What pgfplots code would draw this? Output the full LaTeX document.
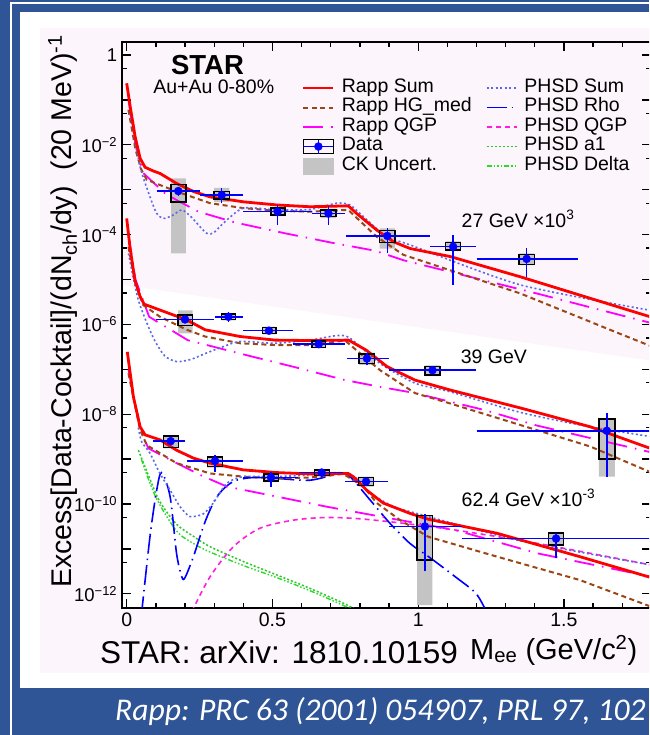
\documentclass[border=0pt]{standalone}
\usepackage{fontspec}
\setmainfont{Liberation Sans}
\newfontfamily\capfont{Carlito}
\usepackage{pgfplots}
\pgfplotsset{compat=1.18}
\definecolor{slideblue}{RGB}{47,85,151}
\definecolor{canvaspink}{RGB}{252,246,252}
\definecolor{rappred}{RGB}{255,0,0}
\definecolor{rappbrown}{RGB}{155,70,20}
\definecolor{rappmag}{RGB}{255,0,255}
\definecolor{phsdsum}{RGB}{90,105,230}
\definecolor{phsdrho}{RGB}{0,0,255}
\definecolor{phsdqgp}{RGB}{255,30,220}
\definecolor{phsdaone}{RGB}{40,200,40}
\definecolor{phsddelta}{RGB}{40,220,40}
\definecolor{datablue}{RGB}{0,0,255}
\definecolor{ckgray}{RGB}{196,196,196}
\tikzset{
 rsum/.style={rappred, line width=2.8pt},
 rhg/.style={rappbrown, line width=2pt, dash pattern=on 5pt off 3.5pt},
 rqgp/.style={rappmag, line width=1.8pt, dash pattern=on 20pt off 8pt on 1.5pt off 8pt},
 psum/.style={phsdsum, line width=1.6pt, dash pattern=on 2pt off 2.5pt},
 prho/.style={phsdrho, line width=1.6pt, dash pattern=on 20pt off 5pt on 1.5pt off 5pt},
 pqgp/.style={phsdqgp, line width=1.6pt, dash pattern=on 5pt off 4pt},
 paone/.style={phsdaone, line width=1.5pt, dash pattern=on 2pt off 2pt},
 pdelta/.style={phsddelta, line width=1.4pt, dash pattern=on 5pt off 2pt on 1.5pt off 2pt on 1.5pt off 2pt on 1.5pt off 2pt},
 sysbox/.style={draw=black, line width=1.4pt, line cap=rect},
 ckband/.style={fill=ckgray, draw=none},
 errbar/.style={datablue, line width=1.5pt},
 datapt/.style={only marks, mark=*, mark size=4pt, datablue, mark options={fill=datablue, draw=datablue}},
}
\begin{document}
\begin{tikzpicture}
\useasboundingbox (0pt,0pt) rectangle (649pt,-735pt);
\clip (0pt,0pt) rectangle (649pt,-735pt);
\begin{scope}[x=1pt,y=-1pt]
 \fill[slideblue] (0,0) rectangle (649,735);
 \draw[white, line width=1.2pt] (11,740) -- (11,3) -- (660,3);
 \fill[white] (20,12) rectangle (660,688);
 \fill[canvaspink] (40,28) rectangle (660,673);
 \fill[white] (121.7,285) -- (660,362) -- (660,607.7) -- (121.7,607.7) -- cycle;
 % texts
 \node[rotate=90, anchor=base, inner sep=0pt, font=\fontsize{28.5}{30}\selectfont] at (71,311.5)
   {Excess[Data-Cocktail]/(dN\textsubscript{ch}/dy)\ \ (20 MeV)\textsuperscript{-1}};
 \node[anchor=base west, inner sep=0pt, font=\fontsize{31.5}{33}\selectfont] at (100,663) {STAR: arXiv: 1810.10159};
 \node[anchor=base west, inner sep=0pt, font=\fontsize{29}{31}\selectfont] at (470,659) {M\textsubscript{ee} (GeV/c\textsuperscript{2})};
 \node[anchor=base west, inner sep=0pt, text=white, font=\capfont\itshape\fontsize{31.6}{33}\selectfont] at (115,720) {Rapp: PRC 63 (2001) 054907, PRL 97, 102};
 \node[anchor=base, inner sep=0pt, font=\bfseries\fontsize{27.5}{29}\selectfont] at (207.5,74.3) {STAR};
 \node[anchor=base, inner sep=0pt, font=\fontsize{19.5}{21}\selectfont] at (213.7,93.3) {Au+Au 0-80\%};
 \node[anchor=base west, inner sep=0pt, font=\fontsize{19.5}{21}\selectfont] at (461.5,227) {27 GeV ×10\textsuperscript{3}};
 \node[anchor=base west, inner sep=0pt, font=\fontsize{19.5}{21}\selectfont] at (460.6,363) {39 GeV};
 \node[anchor=base west, inner sep=0pt, font=\fontsize{19.5}{21}\selectfont] at (461.5,506) {62.4 GeV ×10\textsuperscript{-3}};
\end{scope}
\begin{axis}[
 at={(121.7pt,-607.7pt)}, anchor=south west,
 scale only axis, width=529.7pt, height=566pt,
 xmin=-0.01715, xmax=1.8,
 ymode=log, ymin=4.9e-13, ymax=1.977,
 axis line style={line width=2.2pt},
 every tick/.style={black, line width=1.3pt},
 major tick length=9pt, minor tick length=5pt,
 tick align=inside,
 xtick={0,0.5,1,1.5},
 minor xtick={0.1,0.2,0.3,0.4,0.6,0.7,0.8,0.9,1.1,1.2,1.3,1.4,1.6,1.7},
 ytick={1e-12,1e-11,1e-10,1e-9,1e-8,1e-7,1e-6,1e-5,1e-4,1e-3,1e-2,1e-1,1},
 yticklabels={\mbox{10\textsuperscript{−12}},,\mbox{10\textsuperscript{−10}},,\mbox{10\textsuperscript{−8}},,\mbox{10\textsuperscript{−6}},,\mbox{10\textsuperscript{−4}},,\mbox{10\textsuperscript{−2}},,1},
 minor ytick={5e-13,5e-12,5e-11,5e-10,5e-9,5e-8,5e-7,5e-6,5e-5,5e-4,5e-3,5e-2,5e-1},
 /pgf/number format/assume math mode=true,
 xticklabel style={font=\fontsize{19.5}{21}\selectfont, yshift=-2pt},
 yticklabel style={font=\fontsize{18.5}{20}\selectfont, xshift=-1pt},
 legend columns=2,
 legend cell align=left,
 legend image code/.code={\draw[#1] (0pt,0pt) -- (30pt,0pt);},
 legend style={at={(0.3404,0.9354)}, anchor=north west, draw=none, fill=none,
   inner sep=0pt, outer sep=0pt, row sep=0pt,
   font=\fontsize{19.5}{19.5}\selectfont,
   nodes={inner sep=0pt, text height=13.9pt, text depth=5.6pt},
   /tikz/every odd column/.append style={column sep=7pt},
   /tikz/every even column/.append style={column sep=14pt}},
]
% ---- legend ----
\addlegendimage{rsum}\addlegendentry{Rapp Sum}
\addlegendimage{psum}\addlegendentry{PHSD Sum}
\addlegendimage{rhg}\addlegendentry{Rapp HG\_med}
\addlegendimage{prho}\addlegendentry{PHSD Rho}
\addlegendimage{rqgp}\addlegendentry{Rapp QGP}
\addlegendimage{pqgp}\addlegendentry{PHSD QGP}
\addlegendimage{legend image code/.code={
  \draw[black, line width=1.4pt] (0pt,-7pt) rectangle (30pt,7pt);
  \draw[datablue, line width=1.5pt] (0pt,0pt) -- (30pt,0pt);
  \draw[datablue, line width=1.5pt] (15pt,-7pt) -- (15pt,7pt);
  \fill[datablue] (15pt,0pt) circle (4pt);}}\addlegendentry{Data}
\addlegendimage{paone}\addlegendentry{PHSD a1}
\addlegendimage{legend image code/.code={\fill[ckgray] (0pt,-8pt) rectangle (30pt,8pt);}}\addlegendentry{CK Uncert.}
\addlegendimage{pdelta}\addlegendentry{PHSD Delta}
% ---- CK uncertainty bands ----
\addplot[ckband, unbounded coords=jump, forget plot] coordinates {
(0.152,3.80e-5)(0.203,3.80e-5)(0.203,1.78e-3)(0.152,1.78e-3)(nan,nan)
(0.300,5.37e-4)(0.352,5.37e-4)(0.352,1.10e-3)(0.300,1.10e-3)(nan,nan)
(0.495,2.57e-4)(0.543,2.57e-4)(0.543,4.17e-4)(0.495,4.17e-4)(nan,nan)
(0.665,2.34e-4)(0.718,2.34e-4)(0.718,3.80e-4)(0.665,3.80e-4)(nan,nan)
(0.868,4.90e-5)(0.920,4.90e-5)(0.920,1.38e-4)(0.868,1.38e-4)(nan,nan)
(1.094,4.27e-5)(1.146,4.27e-5)(1.146,7.08e-5)(1.094,7.08e-5)(nan,nan)
(1.346,2.09e-5)(1.398,2.09e-5)(1.398,3.80e-5)(1.346,3.80e-5)(nan,nan)
(0.176,6.31e-7)(0.226,6.31e-7)(0.226,2.04e-6)(0.176,2.04e-6)(nan,nan)
(0.325,1.23e-6)(0.374,1.23e-6)(0.374,1.78e-6)(0.325,1.78e-6)(nan,nan)
(0.466,6.03e-7)(0.512,6.03e-7)(0.512,8.91e-7)(0.466,8.91e-7)(nan,nan)
(0.635,2.95e-7)(0.683,2.95e-7)(0.683,4.47e-7)(0.635,4.47e-7)(nan,nan)
(0.797,1.26e-7)(0.851,1.26e-7)(0.851,2.34e-7)(0.797,2.34e-7)(nan,nan)
(1.023,7.08e-8)(1.075,7.08e-8)(1.075,1.23e-7)(1.023,1.23e-7)(nan,nan)
(1.620,4.07e-10)(1.675,4.07e-10)(1.675,7.76e-9)(1.620,7.76e-9)(nan,nan)
(0.126,1.74e-9)(0.177,1.74e-9)(0.177,3.39e-9)(0.126,3.39e-9)(nan,nan)
(0.277,6.46e-10)(0.329,6.46e-10)(0.329,1.17e-9)(0.277,1.17e-9)(nan,nan)
(0.471,3.09e-10)(0.520,3.09e-10)(0.520,4.90e-10)(0.471,4.90e-10)(nan,nan)
(0.645,4.07e-10)(0.695,4.07e-10)(0.695,6.03e-10)(0.645,6.03e-10)(nan,nan)
(0.796,2.45e-10)(0.847,2.45e-10)(0.847,4.07e-10)(0.796,4.07e-10)(nan,nan)
(0.996,5.62e-13)(1.049,5.62e-13)(1.049,5.62e-11)(0.996,5.62e-11)(nan,nan)
(1.447,1.17e-11)(1.499,1.17e-11)(1.499,2.34e-11)(1.447,2.34e-11)
};
% ================= 27 GeV x10^3 =================
\addplot[rqgp, forget plot] coordinates {(0.006,1.0e-1)(0.03,1.0e-2)(0.057,2.34e-3)(0.131,8.32e-4)(0.171,5.89e-4)(0.246,3.24e-4)(0.372,1.86e-4)(0.543,1.07e-4)(0.703,6.61e-5)(0.852,4.37e-5)(0.949,2.69e-5)(1.406,4.90e-6)(1.692,1.62e-6)(1.8,1.07e-6)};
\addplot[rhg, forget plot] coordinates {(0.006,6.03e-2)(0.03,7.94e-3)(0.05,2.82e-3)(0.069,1.66e-3)(0.171,9.12e-4)(0.286,5.01e-4)(0.4,3.89e-4)(0.515,3.39e-4)(0.629,3.24e-4)(0.76,3.55e-4)(0.858,8.91e-5)(0.949,3.55e-5)(1.35,4.90e-6)(1.658,7.59e-7)(1.8,3.24e-7)};
\addplot[psum, smooth, tension=0.4, forget plot] coordinates {(0.011,5.01e-2)(0.046,3.24e-3)(0.080,6.92e-4)(0.103,2.95e-4)(0.126,2.29e-4)(0.155,2.63e-4)(0.189,3.55e-4)(0.22,2.51e-4)(0.274,1.07e-4)(0.30,1.12e-4)(0.331,1.78e-4)(0.4,3.89e-4)(0.515,3.55e-4)(0.629,3.63e-4)(0.72,5.01e-4)(0.766,4.57e-4)(0.812,2.51e-4)(0.892,8.91e-5)(0.972,5.89e-5)(1.35,7.59e-6)(1.8,2.04e-6)};
\addplot[rsum, forget plot] coordinates {(0,2.34e-1)(0.012,7.08e-2)(0.029,1.51e-2)(0.046,5.01e-3)(0.063,3.16e-3)(0.09,2.63e-3)(0.115,2.29e-3)(0.171,1.38e-3)(0.229,9.12e-4)(0.286,6.92e-4)(0.4,5.37e-4)(0.515,4.57e-4)(0.629,4.17e-4)(0.76,4.37e-4)(0.789,2.95e-4)(0.858,1.26e-4)(0.915,6.92e-5)(0.972,4.90e-5)(1.11,3.24e-5)(1.35,1.15e-5)(1.8,1.45e-6)};
% ================= 39 GeV =================
\addplot[rqgp, forget plot] coordinates {(0.006,1.0e-4)(0.03,1.0e-5)(0.077,1.48e-6)(0.209,4.47e-7)(0.389,2.24e-7)(0.569,1.15e-7)(0.749,5.75e-8)(0.869,4.07e-8)(0.989,2.95e-8)(1.229,1.23e-8)(1.406,5.62e-9)(1.8,1.41e-9)};
\addplot[rhg, forget plot] coordinates {(0.006,5.37e-5)(0.03,7.94e-6)(0.057,2.69e-6)(0.114,1.48e-6)(0.206,7.59e-7)(0.269,5.37e-7)(0.389,3.80e-7)(0.509,3.47e-7)(0.629,3.47e-7)(0.749,4.37e-7)(0.869,9.55e-8)(0.989,2.95e-8)(1.109,1.74e-8)(1.35,5.75e-9)(1.59,1.91e-9)(1.8,5.01e-10)};
\addplot[psum, smooth, tension=0.4, forget plot] coordinates {(0.006,3.80e-5)(0.04,3.47e-6)(0.089,5.37e-7)(0.13,2.0e-7)(0.172,1.48e-7)(0.22,1.66e-7)(0.269,2.24e-7)(0.317,2.95e-7)(0.389,4.17e-7)(0.509,3.80e-7)(0.629,4.47e-7)(0.72,5.62e-7)(0.765,5.01e-7)(0.869,1.35e-7)(0.989,4.90e-8)(1.109,3.16e-8)(1.35,1.10e-8)(1.58,5.37e-9)(1.8,3.16e-9)};
\addplot[rsum, forget plot] coordinates {(0,2.29e-4)(0.011,5.37e-5)(0.028,9.77e-6)(0.046,4.17e-6)(0.06,2.82e-6)(0.114,2.09e-6)(0.206,1.26e-6)(0.269,7.59e-7)(0.389,5.37e-7)(0.509,4.47e-7)(0.629,4.37e-7)(0.761,4.47e-7)(0.821,2.69e-7)(0.893,1.15e-7)(0.989,5.75e-8)(1.109,3.47e-8)(1.35,1.38e-8)(1.59,5.25e-9)(1.8,1.70e-9)};
% ================= 62.4 GeV x10^-3 =================
\addplot[paone, smooth, forget plot] coordinates {(0.04,1.58e-9)(0.08,3.55e-10)(0.114,1.12e-10)(0.171,3.55e-11)(0.229,1.91e-11)(0.286,1.12e-11)(0.4,5.25e-12)(0.515,2.63e-12)(0.629,1.32e-12)(0.74,6.31e-13)(0.8,3.98e-13)};
\addplot[pdelta, smooth, forget plot] coordinates {(0.05,1.0e-9)(0.1,1.41e-10)(0.171,2.51e-11)(0.229,1.32e-11)(0.286,8.51e-12)(0.4,4.27e-12)(0.515,2.29e-12)(0.629,1.17e-12)(0.74,5.62e-13)(0.8,3.55e-13)};
\addplot[pqgp, smooth, forget plot] coordinates {(0.223,3.98e-13)(0.286,2.40e-12)(0.366,1.12e-11)(0.457,2.88e-11)(0.572,4.37e-11)(0.686,5.01e-11)(0.80,4.68e-11)(0.949,3.72e-11)(1.127,2.63e-11)(1.411,1.32e-11)(1.8,4.37e-12)};
\addplot[prho, smooth, tension=0.5, forget plot] coordinates {(0.05,3.16e-13)(0.08,1.91e-11)(0.103,2.04e-10)(0.12,5.01e-10)(0.149,1.45e-10)(0.171,7.94e-12)(0.189,2.40e-12)(0.2,2.29e-12)(0.229,6.76e-12)(0.263,3.16e-11)(0.286,7.41e-11)(0.309,1.45e-10)(0.343,2.51e-10)(0.377,3.39e-10)(0.434,3.89e-10)(0.515,3.72e-10)(0.629,3.39e-10)(0.732,4.79e-10)(0.766,4.07e-10)(0.835,1.23e-10)(0.903,3.72e-11)(0.972,1.32e-11)(1.035,6.76e-12)(1.127,2.40e-12)(1.198,1.02e-12)(1.234,3.98e-13)};
\addplot[rqgp, forget plot] coordinates {(0.006,1.0e-7)(0.045,5.01e-9)(0.074,1.74e-9)(0.171,8.13e-10)(0.251,4.47e-10)(0.343,2.45e-10)(0.457,1.74e-10)(0.572,1.23e-10)(0.686,8.71e-11)(0.812,6.17e-11)(0.938,4.37e-11)(1.127,2.63e-11)(1.41,7.94e-12)(1.8,2.40e-12)};
\addplot[rhg, forget plot] coordinates {(0.006,8.13e-8)(0.046,4.47e-9)(0.069,2.04e-9)(0.171,8.13e-10)(0.286,4.79e-10)(0.4,4.07e-10)(0.515,3.72e-10)(0.629,3.89e-10)(0.743,4.68e-10)(0.812,2.45e-10)(0.858,1.05e-10)(0.938,4.37e-11)(1.035,1.86e-11)(1.269,6.76e-12)(1.553,2.04e-12)(1.8,5.13e-13)};
\addplot[psum, smooth, tension=0.4, forget plot] coordinates {(0.04,5.01e-9)(0.051,2.45e-9)(0.08,1.35e-9)(0.114,4.79e-10)(0.149,2.04e-10)(0.183,8.71e-11)(0.217,5.25e-11)(0.263,6.03e-11)(0.297,1.05e-10)(0.343,2.88e-10)(0.4,4.07e-10)(0.515,4.07e-10)(0.629,4.47e-10)(0.732,5.01e-10)(0.789,3.72e-10)(0.835,1.74e-10)(0.915,8.71e-11)(0.972,6.76e-11)(1.339,1.58e-11)(1.8,4.37e-12)};
\addplot[rsum, forget plot] coordinates {(0.002,2.45e-7)(0.023,2.45e-8)(0.046,5.25e-9)(0.063,3.47e-9)(0.114,2.69e-9)(0.171,1.58e-9)(0.229,1.05e-9)(0.286,8.13e-10)(0.4,5.75e-10)(0.515,5.01e-10)(0.629,4.68e-10)(0.76,4.79e-10)(0.777,4.07e-10)(0.823,2.04e-10)(0.88,1.05e-10)(0.972,6.17e-11)(1.035,4.57e-11)(1.269,2.24e-11)(1.553,6.76e-12)(1.8,2.29e-12)};
% ---- systematic boxes ----
\addplot[sysbox, unbounded coords=jump, forget plot] coordinates {
(0.152,5.37e-4)(0.203,5.37e-4)(0.203,1.32e-3)(0.152,1.32e-3)(0.152,5.37e-4)(nan,nan)
(0.300,6.17e-4)(0.352,6.17e-4)(0.352,9.12e-4)(0.300,9.12e-4)(0.300,6.17e-4)(nan,nan)
(0.495,2.75e-4)(0.543,2.75e-4)(0.543,3.89e-4)(0.495,3.89e-4)(0.495,2.75e-4)(nan,nan)
(0.665,2.51e-4)(0.718,2.51e-4)(0.718,3.55e-4)(0.665,3.55e-4)(0.665,2.51e-4)(nan,nan)
(0.868,6.61e-5)(0.920,6.61e-5)(0.920,1.23e-4)(0.868,1.23e-4)(0.868,6.61e-5)(nan,nan)
(1.094,4.57e-5)(1.146,4.57e-5)(1.146,6.61e-5)(1.094,6.61e-5)(1.094,4.57e-5)(nan,nan)
(1.346,2.19e-5)(1.398,2.19e-5)(1.398,3.63e-5)(1.346,3.63e-5)(1.346,2.19e-5)(nan,nan)
(0.176,9.33e-7)(0.226,9.33e-7)(0.226,1.62e-6)(0.176,1.62e-6)(0.176,9.33e-7)(nan,nan)
(0.325,1.29e-6)(0.374,1.29e-6)(0.374,1.70e-6)(0.325,1.70e-6)(0.325,1.29e-6)(nan,nan)
(0.466,6.31e-7)(0.512,6.31e-7)(0.512,8.51e-7)(0.466,8.51e-7)(0.466,6.31e-7)(nan,nan)
(0.635,3.09e-7)(0.683,3.09e-7)(0.683,4.27e-7)(0.635,4.27e-7)(0.635,3.09e-7)(nan,nan)
(0.797,1.35e-7)(0.851,1.35e-7)(0.851,2.19e-7)(0.797,2.19e-7)(0.797,1.35e-7)(nan,nan)
(1.023,7.41e-8)(1.075,7.41e-8)(1.075,1.17e-7)(1.023,1.17e-7)(1.023,7.41e-8)(nan,nan)
(1.620,1.0e-9)(1.675,1.0e-9)(1.675,7.76e-9)(1.620,7.76e-9)(1.620,1.0e-9)(nan,nan)
(0.126,1.82e-9)(0.177,1.82e-9)(0.177,3.24e-9)(0.126,3.24e-9)(0.126,1.82e-9)(nan,nan)
(0.277,6.76e-10)(0.329,6.76e-10)(0.329,1.12e-9)(0.277,1.12e-9)(0.277,6.76e-10)(nan,nan)
(0.471,3.24e-10)(0.520,3.24e-10)(0.520,4.68e-10)(0.471,4.68e-10)(0.471,3.24e-10)(nan,nan)
(0.645,4.27e-10)(0.695,4.27e-10)(0.695,5.75e-10)(0.645,5.75e-10)(0.645,4.27e-10)(nan,nan)
(0.796,2.57e-10)(0.847,2.57e-10)(0.847,3.89e-10)(0.796,3.89e-10)(0.796,2.57e-10)(nan,nan)
(0.996,5.62e-12)(1.049,5.62e-12)(1.049,5.62e-11)(0.996,5.62e-11)(0.996,5.62e-12)(nan,nan)
(1.447,1.23e-11)(1.499,1.23e-11)(1.499,2.24e-11)(1.447,2.24e-11)(1.447,1.23e-11)
};
% ---- error bars ----
\addplot[errbar, unbounded coords=jump, forget plot] coordinates {
(0.103,9.33e-4)(0.251,9.33e-4)(nan,nan)(0.177,7.41e-4)(0.177,1.17e-3)(nan,nan)
(0.251,7.59e-4)(0.4,7.59e-4)(nan,nan)(0.326,5.01e-4)(0.326,1.07e-3)(nan,nan)
(0.4,3.24e-4)(0.635,3.24e-4)(nan,nan)(0.518,1.62e-4)(0.518,4.57e-4)(nan,nan)
(0.635,2.95e-4)(0.749,2.95e-4)(nan,nan)(0.692,1.62e-4)(0.692,4.37e-4)(nan,nan)
(0.751,9.33e-5)(1.042,9.33e-5)(nan,nan)(0.894,3.80e-5)(0.894,1.38e-4)(nan,nan)
(1.042,5.37e-5)(1.198,5.37e-5)(nan,nan)(1.12,7.59e-6)(1.12,1.0e-4)(nan,nan)
(1.2,2.88e-5)(1.548,2.88e-5)(nan,nan)(1.372,1.15e-5)(1.372,5.01e-5)(nan,nan)
(0.1,1.29e-6)(0.3,1.29e-6)(nan,nan)(0.2,1.15e-6)(0.2,1.45e-6)(nan,nan)
(0.303,1.48e-6)(0.4,1.48e-6)(nan,nan)(0.349,1.15e-6)(0.349,1.91e-6)(nan,nan)
(0.4,7.24e-7)(0.572,7.24e-7)(nan,nan)(0.488,6.46e-7)(0.488,8.13e-7)(nan,nan)
(0.569,3.63e-7)(0.749,3.63e-7)(nan,nan)(0.659,3.09e-7)(0.659,4.27e-7)(nan,nan)
(0.755,1.74e-7)(0.9,1.74e-7)(nan,nan)(0.824,1.26e-7)(0.824,2.34e-7)(nan,nan)
(0.9,9.55e-8)(1.197,9.55e-8)(nan,nan)(1.049,8.32e-8)(1.049,1.10e-7)(nan,nan)
(1.2,4.27e-9)(1.85,4.27e-9)(nan,nan)(1.647,4.07e-10)(1.647,1.05e-8)(nan,nan)
(0.091,2.51e-9)(0.2,2.51e-9)(nan,nan)(0.151,2.24e-9)(0.151,2.82e-9)(nan,nan)
(0.206,9.12e-10)(0.4,9.12e-10)(nan,nan)(0.303,5.25e-10)(0.303,1.23e-9)(nan,nan)
(0.4,3.89e-10)(0.589,3.89e-10)(nan,nan)(0.495,2.45e-10)(0.495,5.25e-10)(nan,nan)
(0.591,5.01e-10)(0.743,5.01e-10)(nan,nan)(0.669,4.47e-10)(0.669,5.62e-10)(nan,nan)
(0.749,3.16e-10)(0.897,3.16e-10)(nan,nan)(0.821,2.75e-10)(0.821,3.63e-10)(nan,nan)
(0.9,3.16e-11)(1.149,3.16e-11)(nan,nan)(1.023,3.16e-12)(1.023,5.89e-11)(nan,nan)
(1.149,1.70e-11)(1.85,1.70e-11)(nan,nan)(1.473,6.17e-12)(1.473,2.24e-11)
};
% ---- data points ----
\addplot[datapt, forget plot] coordinates {
(0.177,9.33e-4)(0.326,7.59e-4)(0.518,3.24e-4)(0.692,2.95e-4)(0.894,9.33e-5)(1.12,5.37e-5)(1.372,2.88e-5)
(0.2,1.29e-6)(0.349,1.48e-6)(0.488,7.24e-7)(0.659,3.63e-7)(0.824,1.74e-7)(1.049,9.55e-8)(1.647,4.27e-9)
(0.151,2.51e-9)(0.303,9.12e-10)(0.495,3.89e-10)(0.669,5.01e-10)(0.821,3.16e-10)(1.023,3.16e-11)(1.473,1.70e-11)
};
\end{axis}
\end{tikzpicture}
\end{document}
